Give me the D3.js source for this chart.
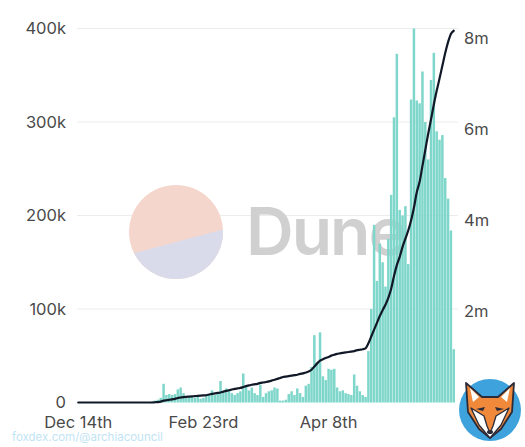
<!DOCTYPE html>
<html><head><meta charset="utf-8">
<script src="https://cdn.jsdelivr.net/npm/d3@7"></script>
<style>
html,body{margin:0;padding:0;background:#fff;}
svg{display:block;font-family:Inter,"Open Sans",sans-serif;}
</style></head>
<body><svg id="c" width="525" height="447"></svg>
<script>
// ---- data ----
const firstDate = "2022-12-14";
const dailyStart = "2023-01-11", dailyEnd = "2023-05-23";
// daily values (thousands)
const dailyValues = [
0,0,0,0,0,0,0,0,0,0,0,0,0,0,0,0,0,0,0,0,0,0,0,0,0,0,
1,2,3,5,20,8,9,8,9,14,16,10,5,7,6,5,6,4,5,
7,9,13,8,11,23,12,15,14,10,8,10,12,31,18,13,16,10,8,19,6,10,12,13,16,15,2,2,3,9,12,8,15,10,6,18,20,38,72,42,75,28,24,36,
35,36,16,12,13,10,9,8,30,18,12,8,6,
55,100,190,130,170,150,124,175,222,305,373,206,200,210,148,324,400,323,320,354,300,260,345,374,290,281,286,240,218,184,57
];
// cumulative total (millions)
const cumulativeValues = [
0,0,0,0,0,0,0,0,0,0,0,0,0,0,0,0,0,0,0,0,0,0,0,0,0,0,0,
0.005,0.01,0.02,0.04,0.05,0.06,0.07,0.08,0.10,0.11,0.12,0.125,0.13,0.135,0.14,0.145,0.15,0.155,
0.16,0.175,0.19,0.20,0.21,0.22,0.24,0.255,0.27,0.285,0.30,0.31,0.32,0.34,0.36,0.375,0.39,0.40,0.41,0.43,0.44,0.45,0.465,0.48,0.50,0.52,0.54,0.56,0.57,0.58,0.59,0.60,0.61,0.63,0.64,0.66,0.68,0.72,0.79,0.86,0.92,0.95,0.98,1.00,
1.03,1.05,1.07,1.08,1.09,1.10,1.11,1.12,1.13,1.15,1.16,1.17,1.19,
1.30,1.45,1.60,1.75,1.90,2.03,2.15,2.30,2.50,2.78,3.02,3.20,3.42,3.60,3.78,4.00,4.28,4.62,4.85,5.20,5.55,5.90,6.22,6.55,6.85,7.12,7.40,7.68,7.92,8.10,8.17
];
const leftTicks = [0,100,200,300,400];
const leftTickLabels = ["0","100k","200k","300k","400k"];
const rightTicks = [0,2,4,6,8];
const rightTickLabels = ["0","2m","4m","6m","8m"];
const xTickDates = ["2022-12-14","2023-02-23","2023-04-08"];
const xTickLabels = ["Dec 14th","Feb 23rd","Apr 8th"];

// ---- categories ----
const fmt = d3.utcFormat("%Y-%m-%d");
const categories = [firstDate].concat(
  d3.utcDay.range(new Date(dailyStart+"T00:00:00Z"), new Date(dailyEnd+"T00:00:00Z")).map(fmt));
const rows = categories.map((c,i)=>({date:c, v:dailyValues[i]||0, cum:cumulativeValues[i]||0}));

const svg = d3.select("#c");
const x = d3.scaleBand().domain(categories).range([77,455]).paddingInner(0.12).paddingOuter(0);
const yL = d3.scaleLinear().domain([0,400]).range([402.5,28.5]);
const yR = d3.scaleLinear().domain([0,8]).range([402.5,38.5]);

// gridlines
svg.append("g").selectAll("line").data(leftTicks.slice(1)).join("line")
  .attr("x1",77).attr("x2",458).attr("y1",d=>yL(d)).attr("y2",d=>yL(d))
  .attr("stroke","#ececec").attr("stroke-width",1);

// watermark
const wm = svg.append("g");
const cx=176, cy=232, r=47;
wm.append("clipPath").attr("id","wmc").append("circle").attr("cx",cx).attr("cy",cy).attr("r",r);
const wg = wm.append("g").attr("clip-path","url(#wmc)");
wg.append("rect").attr("x",cx-r).attr("y",cy-r).attr("width",2*r).attr("height",2*r).attr("fill","#f5d6cc");
wg.append("path").attr("d",`M${cx-r-2},${cy+23} L${cx+r+2},${cy-3} L${cx+r+2},${cy+r+2} L${cx-r-2},${cy+r+2} Z`).attr("fill","#dadbea");
wm.append("text").attr("x",246).attr("y",255).attr("font-size",66).attr("font-weight",600)
  .attr("letter-spacing",-2).attr("fill","#d0d0d0").attr("font-family","Inter, 'Open Sans', sans-serif").text("Dune");

// bars
svg.append("g").selectAll("rect").data(rows).join("rect")
  .attr("x",d=>x(d.date)).attr("width",x.bandwidth())
  .attr("y",d=>yL(d.v)).attr("height",d=>yL(0)-yL(d.v))
  .attr("fill","#7fd6ca");

// line
const line = d3.line().x(d=>x(d.date)+x.bandwidth()/2).y(d=>yR(d.cum)).curve(d3.curveMonotoneX);
svg.append("path").datum(rows).attr("d",line).attr("fill","none")
  .attr("stroke","#111827").attr("stroke-width",2.2).attr("stroke-linejoin","round").attr("stroke-linecap","round");

// left axis labels
svg.append("g").selectAll("text").data(leftTicks).join("text")
  .attr("x",66).attr("y",d=>yL(d)).attr("dy","0.35em").attr("text-anchor","end")
  .attr("font-size",16.5).attr("fill","#4a4a4a").text((d,i)=>leftTickLabels[i]);
// right axis labels
svg.append("g").selectAll("text").data(rightTicks).join("text")
  .attr("x",464).attr("y",d=>yR(d)).attr("dy","0.35em").attr("text-anchor","start")
  .attr("font-size",16.5).attr("fill","#4a4a4a").text((d,i)=>rightTickLabels[i]);
// x labels
svg.append("g").selectAll("text").data(xTickDates).join("text")
  .attr("x",d=>x(d)+x.bandwidth()/2).attr("y",428).attr("text-anchor","middle")
  .attr("font-size",16.5).attr("fill","#4a4a4a").text((d,i)=>xTickLabels[i]);

// source watermark text
svg.append("text").attr("x",12).attr("y",441).attr("font-size",11.5).attr("fill","#bfe4f4").text("foxdex.com/@archiacouncil");

// fox logo
const fx=490, fy=410;
const fox = svg.append("g").attr("transform",`translate(${fx},${fy})`);
fox.append("circle").attr("r",33).attr("fill","#ffffff");
fox.append("circle").attr("r",31).attr("fill","#3ea2dd");
fox.append("path").attr("d","M-24,-27 L-8,-13 L8,-13 L24,-27 L22,2 L11,19 L0,28 L-11,19 L-22,2 Z")
  .attr("fill","#f08a3a").attr("stroke","#2b2b3a").attr("stroke-width",1.8).attr("stroke-linejoin","round");
fox.append("path").attr("d","M-19,-2 L-6,6 L-3,16 L0,23 L3,16 L6,6 L19,-2 L11,15 L0,28 L-11,15 Z")
  .attr("fill","#ffffff").attr("stroke","#2b2b3a").attr("stroke-width",1.3).attr("stroke-linejoin","round");
fox.append("path").attr("d","M-20,-22 L-11,-13 L-17,-8 Z").attr("fill","#ffffff");
fox.append("path").attr("d","M20,-22 L11,-13 L17,-8 Z").attr("fill","#ffffff");
fox.append("path").attr("d","M-14,-1 L-5,-3 L-7,1 Z").attr("fill","#2b2b3a");
fox.append("path").attr("d","M14,-1 L5,-3 L7,1 Z").attr("fill","#2b2b3a");
fox.append("ellipse").attr("cx",0).attr("cy",22).attr("rx",3).attr("ry",2).attr("fill","#2b2b3a");
</script></body></html>
